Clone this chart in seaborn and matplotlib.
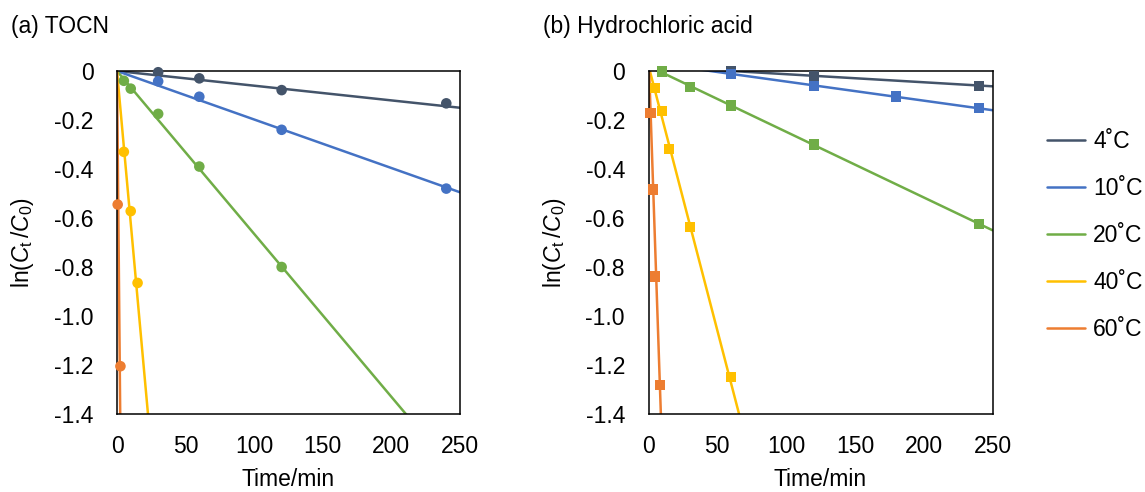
import numpy as np
import pandas as pd
import matplotlib
matplotlib.use("Agg")
import matplotlib.pyplot as plt
import seaborn as sns

sns.set_style("white")
plt.rcParams['font.family'] = ['Liberation Sans', 'DejaVu Sans']
plt.rcParams['mathtext.fontset'] = 'custom'
plt.rcParams['mathtext.rm'] = 'Liberation Sans'
plt.rcParams['mathtext.it'] = 'Liberation Sans:italic'
plt.rcParams['text.color'] = 'black'
plt.rcParams['axes.labelcolor'] = 'black'
plt.rcParams['xtick.color'] = 'black'
plt.rcParams['ytick.color'] = 'black'

temps = ["4˚C", "10˚C", "20˚C", "40˚C", "60˚C"]
colors = ["#44546A", "#4472C4", "#70AD47", "#FFC000", "#ED7D31"]

# (a) TOCN
a_t_4 = [30, 60, 120, 240]
a_y_4 = [-0.005, -0.03, -0.078, -0.132]
a_t_10 = [30, 60, 120, 240]
a_y_10 = [-0.042, -0.105, -0.24, -0.48]
a_t_20 = [5, 10, 30, 60, 120]
a_y_20 = [-0.04, -0.072, -0.175, -0.39, -0.80]
a_t_40 = [5, 10, 15]
a_y_40 = [-0.33, -0.572, -0.865]
a_t_60 = [0.5, 2.5]
a_y_60 = [-0.545, -1.205]
a_slope = [-0.0006, -0.00198, -0.00665, -0.062, -0.6]
a_icpt = [0.0, 0.0, 0.0, 0.0, 0.0]

# (b) Hydrochloric acid
b_t_4 = [60, 120, 240]
b_y_4 = [0.0, -0.022, -0.06]
b_t_10 = [60, 120, 180, 240]
b_y_10 = [-0.012, -0.062, -0.104, -0.15]
b_t_20 = [10, 30, 60, 120, 240]
b_y_20 = [-0.002, -0.065, -0.141, -0.30, -0.624]
b_t_40 = [5, 10, 15, 30, 60]
b_y_40 = [-0.07, -0.162, -0.318, -0.637, -1.25]
b_t_60 = [1.5, 3, 5, 8.2]
b_y_60 = [-0.172, -0.484, -0.839, -1.283]
b_slope = [-0.00033, -0.00078, -0.00268, -0.0216, -0.165]
b_icpt = [0.02, 0.035, 0.02, 0.0216, 0.082]

x_ticks = [0, 50, 100, 150, 200, 250]
y_ticks = [0, -0.2, -0.4, -0.6, -0.8, -1.0, -1.2, -1.4]
y_ticklabels = ["0", "-0.2", "-0.4", "-0.6", "-0.8", "-1.0", "-1.2", "-1.4"]


def build(ts, ys):
    rows = []
    for lab, t, y in zip(temps, ts, ys):
        for ti, yi in zip(t, y):
            rows.append({"T": lab, "t": ti, "y": yi})
    return pd.DataFrame(rows)


def build_fit(slopes, icpts):
    rows = []
    xs = np.linspace(0, 250, 2001)
    for lab, k, b in zip(temps, slopes, icpts):
        for x in xs:
            rows.append({"T": lab, "t": x, "y": b + k * x})
    return pd.DataFrame(rows)


fig = plt.figure(figsize=(11.45, 4.92), dpi=100)
W, H = 1145, 492
ax_a = fig.add_axes([117 / W, (H - 414) / H, 343 / W, 343 / H])
ax_b = fig.add_axes([648.5 / W, (H - 414) / H, 344 / W, 343 / H])

pal = dict(zip(temps, colors))
fs = 16.5

for ax, pts, fit, marker, title in [
    (ax_a, build([a_t_4, a_t_10, a_t_20, a_t_40, a_t_60], [a_y_4, a_y_10, a_y_20, a_y_40, a_y_60]),
     build_fit(a_slope, a_icpt), "o", "(a) TOCN"),
    (ax_b, build([b_t_4, b_t_10, b_t_20, b_t_40, b_t_60], [b_y_4, b_y_10, b_y_20, b_y_40, b_y_60]),
     build_fit(b_slope, b_icpt), "s", "(b) Hydrochloric acid"),
]:
    sns.lineplot(data=fit, x="t", y="y", hue="T", palette=pal, ax=ax, linewidth=1.8,
                 legend=(ax is ax_b), sort=True)
    sns.scatterplot(data=pts, x="t", y="y", hue="T", palette=pal, ax=ax, marker=marker,
                    s=58 if marker == "o" else 54, linewidth=0, legend=False, zorder=5,
                    clip_on=False)
    ax.set_xlim(0, 250)
    ax.set_ylim(-1.4, 0)
    ax.set_xticks(x_ticks)
    ax.set_xticklabels([str(v) for v in x_ticks], fontsize=fs, color="black")
    ax.set_yticks(y_ticks)
    ax.set_yticklabels(y_ticklabels, fontsize=fs, color="black")
    ax.tick_params(axis="x", direction="in", length=5, width=1.0, color="black", pad=15)
    ax.tick_params(axis="y", direction="in", length=5, width=1.0, color="black", pad=17)
    for sp in ax.spines.values():
        sp.set_color("black")
        sp.set_linewidth(1.1)
    ax.set_xlabel("Time/min", fontsize=fs, labelpad=7, color="black")
    ax.set_ylabel(r"ln($\mathit{C}_\mathrm{t}\,/\mathit{C}_\mathrm{0}$)", fontsize=fs, color="black")
    ax.yaxis.set_label_coords(-0.235, 0.5)
    ax.text(-0.308, 1.13, title, transform=ax.transAxes, fontsize=fs, ha="left", va="center",
            color="black")

handles, labels = ax_b.get_legend_handles_labels()
ax_b.get_legend().remove()
leg = fig.legend(handles, labels, loc="upper left", bbox_to_anchor=(1047 / W, 1 - 130.5 / H),
                 frameon=False, fontsize=fs, handlelength=1.66, labelspacing=1.04,
                 handletextpad=0.35, borderpad=0, borderaxespad=0)
for t in leg.get_texts():
    t.set_color("black")

fig.savefig("out.png", dpi=100)
